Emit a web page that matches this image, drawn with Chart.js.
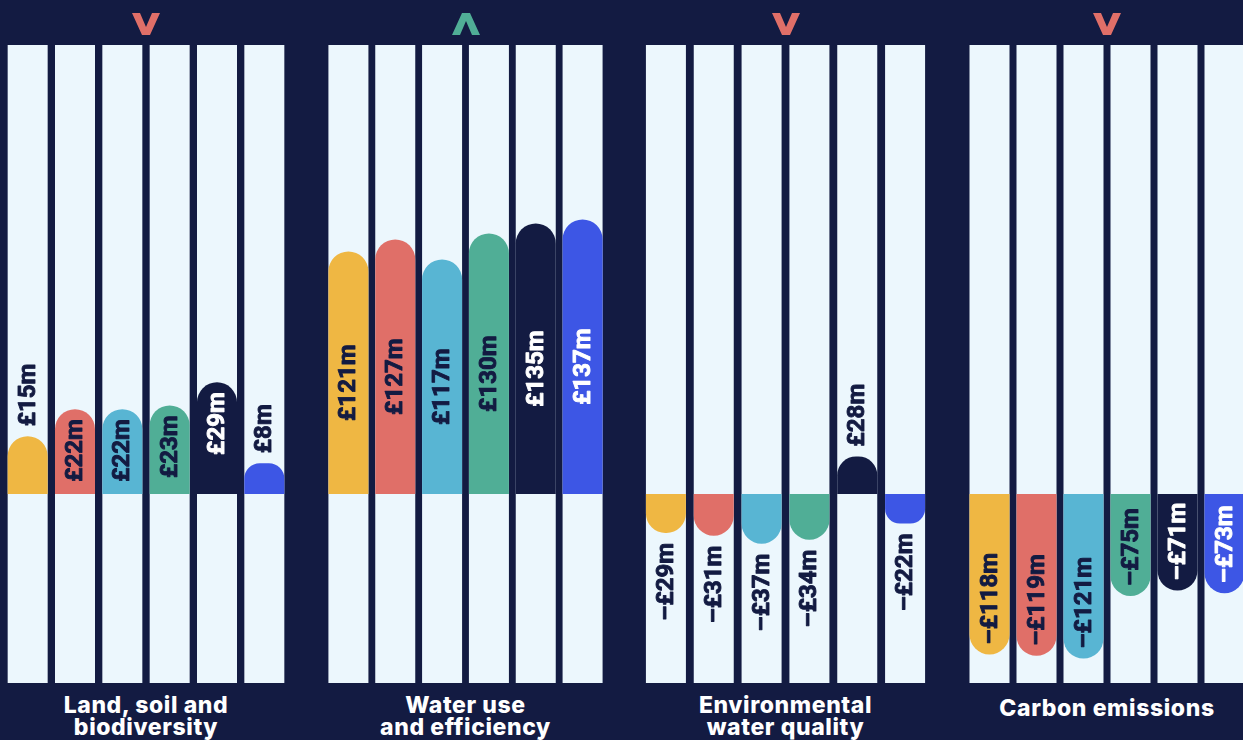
<!DOCTYPE html>
<html>
<head>
<meta charset="utf-8">
<script src="https://cdn.jsdelivr.net/npm/chart.js@4.4.1/dist/chart.umd.min.js"></script>
<style>
  html, body { margin: 0; padding: 0; background: #131b42; overflow: hidden; }
  #wrap { position: relative; width: 1243px; height: 740px; background: #131b42; }
  canvas { position: absolute; top: 45px; }
  .title {
    position: absolute; top: 694px; width: 320px; text-align: center;
    color: #ffffff; font-family: Inter, sans-serif; font-weight: 800;
    font-size: 23px; line-height: 22px; letter-spacing: 0.6px;
  }
  .title.single { top: 697px; }
  svg.arrow { position: absolute; top: 13px; }
</style>
</head>
<body>
<div id="wrap"></div>
<script>
// categories (one colour per option, no legend in the picture)
const categories = ['1', '2', '3', '4', '5', '6'];

// values in £m
const landSoil = [15, 22, 22, 23, 29, 8];
const waterUse = [121, 127, 117, 130, 135, 137];
const waterQuality = [-29, -31, -37, -34, 28, -22];
const carbon = [-118, -119, -121, -75, -71, -73];

const groupTitles = [
  ['Land, soil and', 'biodiversity'],
  ['Water use', 'and efficiency'],
  ['Environmental', 'water quality'],
  ['Carbon emissions']
];
const arrows = ['down', 'up', 'down', 'down'];

const NAVY = '#131b42';
const COLUMN = '#ecf7fd';
const barColors = ['#efb743', '#e06f68', '#58b5d3', '#50ae96', '#131b42', '#3d56e5'];
const arrowColors = { down: '#e06f68', up: '#50ae96' };

// layout of the four small charts (pixels)
const groups = [
  { data: landSoil, left: 4.3, width: 284.4, min: -49.1, max: 116.6 },
  { data: waterUse, left: 324.6, width: 280.8, min: -94.3, max: 224 },
  { data: waterQuality, left: 641.6, width: 286.8, min: -140.7, max: 334.3 },
  { data: carbon, left: 965.5, width: 282, min: -139, max: 330 }
];
const CH = 638;

const fmt = v => (v < 0 ? '–£' : '£') + Math.abs(v) + 'm';

// light column behind every bar
const columnPlugin = {
  id: 'columns',
  beforeDatasetsDraw(chart) {
    const { ctx, chartArea } = chart;
    const meta = chart.getDatasetMeta(0);
    ctx.save();
    ctx.fillStyle = COLUMN;
    meta.data.forEach(bar => {
      ctx.fillRect(bar.x - 20, chartArea.top, 40, chartArea.bottom - chartArea.top);
    });
    ctx.restore();
  }
};

// rotated value labels
const labelPlugin = {
  id: 'valueLabels',
  afterDatasetsDraw(chart) {
    const { ctx } = chart;
    const meta = chart.getDatasetMeta(0);
    const values = chart.data.datasets[0].data;
    ctx.save();
    ctx.font = 'bold 24px Roboto';
    ctx.textAlign = 'center';
    ctx.textBaseline = 'middle';
    ctx.lineWidth = 0.9;
    ctx.lineJoin = 'round';
    meta.data.forEach((bar, i) => {
      const v = values[i];
      const txt = fmt(v);
      const w = ctx.measureText(txt).width;
      const dir = v >= 0 ? -1 : 1;
      const L = Math.abs(bar.base - bar.y);
      const pad = 10;
      let cy, inside = true;
      if (L > 200) {
        cy = (bar.base + bar.y - dir * 20) / 2;
      } else if (w + 2 * pad - 4 <= L) {
        cy = bar.y - dir * (pad + w / 2);
      } else {
        cy = bar.y + dir * (pad + w / 2);
        inside = false;
      }
      const c = barColors[i];
      const col = inside && (c === '#131b42' || c === '#3d56e5') ? '#ffffff' : NAVY;
      ctx.fillStyle = col;
      ctx.strokeStyle = col;
      ctx.save();
      ctx.translate(bar.x, cy);
      ctx.rotate(-Math.PI / 2);
      ctx.fillText(txt, 0, 1);
      ctx.strokeText(txt, 0, 1);
      ctx.restore();
    });
    ctx.restore();
  }
};

const wrap = document.getElementById('wrap');

groups.forEach((g, gi) => {
  const canvas = document.createElement('canvas');
  const cw = Math.round(g.width);
  canvas.width = cw;
  canvas.height = CH;
  canvas.style.left = Math.round(g.left) + 'px';
  canvas.style.width = cw + 'px';
  canvas.style.height = CH + 'px';
  wrap.appendChild(canvas);

  new Chart(canvas, {
    type: 'bar',
    data: {
      labels: categories,
      datasets: [{
        data: g.data,
        backgroundColor: barColors,
        borderWidth: 0,
        borderRadius: 20,
        borderSkipped: 'start',
        barPercentage: 40 / (cw / 6),
        categoryPercentage: 1
      }]
    },
    options: {
      responsive: false,
      devicePixelRatio: 1,
      animation: false,
      layout: { padding: 0 },
      plugins: { legend: { display: false }, tooltip: { enabled: false } },
      scales: {
        x: { display: false, offset: true },
        y: { display: false, min: g.min, max: g.max }
      }
    },
    plugins: [columnPlugin, labelPlugin]
  });

  // group title
  const cx = Math.round(g.left) + cw / 2;
  const t = document.createElement('div');
  t.className = 'title' + (groupTitles[gi].length === 1 ? ' single' : '');
  t.style.left = (cx - 160) + 'px';
  t.innerHTML = groupTitles[gi].join('<br>');
  wrap.appendChild(t);

  // chevron above the group
  const svgNS = 'http://www.w3.org/2000/svg';
  const svg = document.createElementNS(svgNS, 'svg');
  svg.setAttribute('class', 'arrow');
  svg.setAttribute('width', '28');
  svg.setAttribute('height', '23');
  svg.style.left = (cx - 14) + 'px';
  const p = document.createElementNS(svgNS, 'polygon');
  const pts = arrows[gi] === 'down'
    ? '0,0 8,0 14,14 20,0 28,0 18,22 10,22'
    : '0,22 8,22 14,8 20,22 28,22 18,0 10,0';
  p.setAttribute('points', pts);
  p.setAttribute('fill', arrowColors[arrows[gi]]);
  svg.appendChild(p);
  wrap.appendChild(svg);
});
</script>
</body>
</html>
